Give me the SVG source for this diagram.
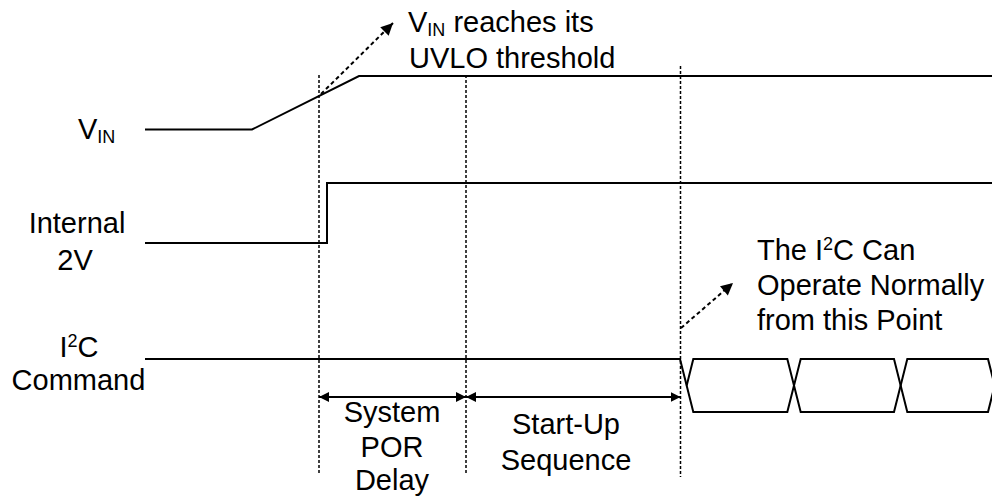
<svg xmlns="http://www.w3.org/2000/svg" width="992" height="497" viewBox="0 0 992 497">
<style>
.sig{fill:none;stroke:#000;stroke-width:2;stroke-linejoin:miter}
.dot{fill:none;stroke:#000;stroke-width:1.5;stroke-dasharray:3 2}
.dash{fill:none;stroke:#000;stroke-width:2;stroke-dasharray:4 3}
.dim{fill:none;stroke:#000;stroke-width:2}
text{font-family:"Liberation Sans",Arial,sans-serif;font-size:29px;fill:#000}
.mid{text-anchor:middle}
.sm{font-size:18px}
</style>
<defs>
<marker id="ah" viewBox="0 0 10 10" refX="10" refY="5" markerWidth="10" markerHeight="12" markerUnits="userSpaceOnUse" orient="auto-start-reverse">
<path d="M0,0 L10,5 L0,10 Z" fill="#000"/>
</marker>
<marker id="ahd" viewBox="0 0 10 10" refX="10" refY="5" markerWidth="15" markerHeight="12" markerUnits="userSpaceOnUse" orient="auto">
<path d="M0,0 L10,5 L0,10 Z" fill="#000"/>
</marker>
</defs>
<g id="guides">
<line class="dot" x1="319" y1="75" x2="319" y2="474"/>
<line class="dot" x1="466" y1="75" x2="466" y2="474"/>
<line class="dot" x1="680.5" y1="66" x2="680.5" y2="477"/>
</g>
<g id="vin">
<text x="78" y="139">V<tspan class="sm" dy="4">IN</tspan></text>
<polyline class="sig" points="145,129.5 252,129.5 359,76 992,76"/>
</g>
<g id="internal2v">
<text class="mid" x="77" y="233">Internal</text>
<text class="mid" x="75" y="270">2V</text>
<polyline class="sig" points="145,243 327,243 327,183 992,183"/>
</g>
<g id="i2c">
<text class="mid" x="79" y="357">I<tspan class="sm" dy="-10">2</tspan><tspan dy="10">C</tspan></text>
<text class="mid" x="78.5" y="390">Command</text>
<polyline class="sig" points="145,359 680,359 693.3,412 787.3,412 800.7,359 894,359 907.3,412 988,412 1001.3,359"/>
<polyline class="sig" points="686.7,385.5 693.3,359 787.3,359 800.7,412 894,412 907.3,359 988,359 1001.3,412"/>
</g>
<g id="connectors">
<line class="dash" x1="321" y1="94" x2="393" y2="23" marker-end="url(#ahd)"/>
<line class="dash" x1="681" y1="328" x2="733" y2="283" marker-end="url(#ahd)"/>
<line class="dim" x1="319" y1="397" x2="466" y2="397" marker-start="url(#ah)" marker-end="url(#ah)"/>
<line class="dim" x1="466" y1="397" x2="680.5" y2="397" marker-start="url(#ah)" marker-end="url(#ah)"/>
</g>
<g id="uvlo-note">
<text x="408" y="32">V<tspan class="sm" dy="4">IN</tspan><tspan dy="-4"> reaches its</tspan></text>
<text x="409" y="68">UVLO threshold</text>
</g>
<g id="i2c-note">
<text x="757" y="260">The I<tspan class="sm" dy="-10">2</tspan><tspan dy="10">C Can</tspan></text>
<text x="757" y="295">Operate Normally</text>
<text x="757" y="330">from this Point</text>
</g>
<g id="por-label">
<text class="mid" x="392" y="422">System</text>
<text class="mid" x="392" y="457">POR</text>
<text class="mid" x="392" y="490">Delay</text>
</g>
<g id="startup-label">
<text class="mid" x="566" y="434">Start-Up</text>
<text class="mid" x="566" y="470">Sequence</text>
</g>
</svg>
